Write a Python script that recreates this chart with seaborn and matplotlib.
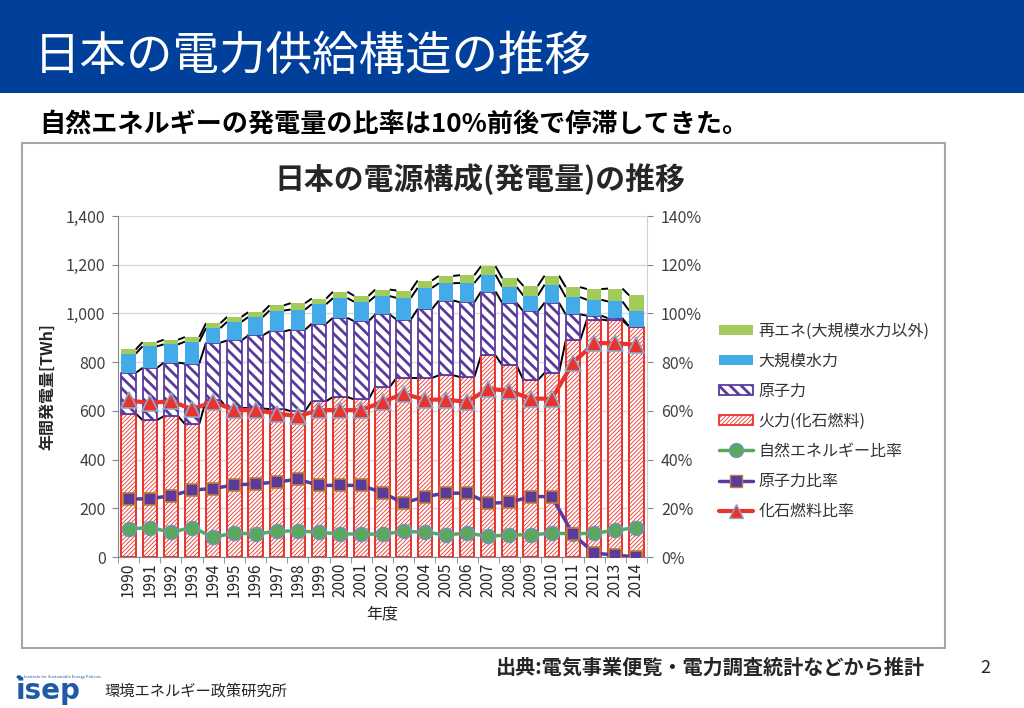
import numpy as np
import pandas as pd
import matplotlib
matplotlib.use("Agg")
import matplotlib.pyplot as plt
import seaborn as sns
from matplotlib.patches import Rectangle, Patch
from matplotlib.lines import Line2D
from matplotlib.collections import LineCollection
from matplotlib.ticker import FuncFormatter, MultipleLocator

# ---------------- data ----------------
years = [str(y) for y in range(1990, 2015)]
fossil = [589, 562, 578, 546, 644, 610, 610, 607, 599, 640, 657, 647, 698,
          735, 735, 746, 739, 828, 787, 726, 756, 889, 975, 971, 946]
nuclear = [167, 214, 220, 248, 236, 279, 300, 319, 334, 318, 325, 321, 298,
           240, 283, 307, 307, 262, 256, 282, 288, 107, 16, 9, 0]
hydro = [79, 89, 75, 90, 60, 77, 75, 86, 83, 80, 81, 80, 75,
         89, 87, 71, 79, 69, 66, 65, 74, 71, 65, 69, 65]
renew = [17, 17, 19, 19, 20, 20, 20, 21, 26, 23, 26, 24, 27,
         30, 30, 30, 32, 35, 35, 40, 37, 41, 44, 53, 63]
ratio_natural = [11.5, 12.1, 10.2, 12.1, 8.2, 9.8, 9.5, 10.5, 10.8, 10.1, 9.5, 9.4, 9.4,
                 10.5, 10.2, 9.1, 9.8, 8.5, 9.1, 9.1, 9.8, 9.5, 9.8, 10.9, 12.1]
ratio_nuclear = [23.7, 24.0, 25.1, 27.5, 28.1, 29.6, 30.0, 30.8, 31.9, 29.4, 29.4, 29.4, 26.4,
                 22.1, 24.8, 26.2, 26.2, 22.1, 22.4, 24.8, 24.8, 9.4, 1.6, 0.8, 0.0]
ratio_fossil = [64.3, 63.2, 64.0, 60.7, 63.7, 60.3, 60.3, 58.9, 57.8, 60.3, 60.3, 60.3, 63.7,
                67.0, 64.6, 64.6, 63.7, 69.1, 68.2, 65.0, 65.0, 79.6, 87.8, 87.8, 87.1]

labels_bar = ["再エネ(大規模水力以外)", "大規模水力", "原子力", "火力(化石燃料)"]
labels_line = ["自然エネルギー比率", "原子力比率", "化石燃料比率"]

# ---------------- style ----------------
sns.set_style("white")
plt.rcParams['font.family'] = ['Noto Sans CJK JP', 'DejaVu Sans']
plt.rcParams['hatch.linewidth'] = 0.6

C_FOSSIL = '#E8342C'
C_NUC = '#5B3A9E'
C_HYDRO = '#43ABE8'
C_RENEW = '#A2CB5C'
C_GREEN = '#5BA85A'
C_GRAY = '#868686'
H_FOSSIL = '////////'
H_NUC = '\\\\\\'

fig = plt.figure(figsize=(10.24, 7.08), dpi=100)

# header band
fig.patches.append(Rectangle((0, 1 - 93 / 708), 1, 93 / 708, transform=fig.transFigure,
                             facecolor='#00409A', edgecolor='none', zorder=-2))
fig.text(0.033, 1 - 57 / 708, "日本の電力供給構造の推移", color='white', fontsize=33.5,
         va='center', ha='left')
fig.text(0.038, 1 - 125 / 708, "自然エネルギーの発電量の比率は10%前後で停滞してきた。",
         color='black', fontsize=18.8, fontweight='bold', va='center', ha='left')

# chart frame
fig.patches.append(Rectangle((22 / 1024, 1 - 648 / 708), 923 / 1024, 505 / 708,
                             transform=fig.transFigure, facecolor='white',
                             edgecolor='#A6A6A6', linewidth=1.5, zorder=-2))
fig.text(480 / 1024, 1 - 179 / 708, "日本の電源構成(発電量)の推移", fontsize=21.5,
         fontweight='bold', ha='center', va='center')

ax = fig.add_axes([118 / 1024, 1 - 557 / 708, 529 / 1024, 341 / 708])
ax.set_facecolor('none')

df = pd.DataFrame({'year': years, 'fossil': fossil, 'nuclear': nuclear,
                   'hydro': hydro, 'renew': renew})
b1 = df['fossil']
b2 = b1 + df['nuclear']
b3 = b2 + df['hydro']
b4 = b3 + df['renew']
W = 0.68

sns.barplot(data=df, x='year', y='fossil', ax=ax, color='white', saturation=1,
            width=W, edgecolor=C_FOSSIL, linewidth=1.4, hatch=H_FOSSIL, zorder=2)
sns.barplot(data=df, x='year', y='nuclear', bottom=b1, ax=ax, color='white', saturation=1,
            width=W, edgecolor=C_NUC, linewidth=1.3, hatch=H_NUC, zorder=2)
sns.barplot(data=df, x='year', y='hydro', bottom=b2, ax=ax, color=C_HYDRO, saturation=1,
            width=W, linewidth=0, zorder=2)
sns.barplot(data=df, x='year', y='renew', bottom=b3, ax=ax, color=C_RENEW, saturation=1,
            width=W, linewidth=0, zorder=2)

for p in ax.patches:
    if p.get_hatch() == H_NUC and hasattr(p, 'set_hatch_linewidth'):
        p.set_hatch_linewidth(2.0)

# series lines between stacked tops
pos = np.arange(len(years))
segs = []
for lev in (b1, b2, b3, b4):
    lev = np.asarray(lev)
    for i in range(len(pos) - 1):
        segs.append([(pos[i] + W / 2, lev[i]), (pos[i + 1] - W / 2, lev[i + 1])])
ax.add_collection(LineCollection(segs, colors='black', linewidths=1.4, zorder=1.5))

ax.set_xlim(-0.5, len(years) - 0.5)
ax.set_ylim(0, 1400)
ax.yaxis.set_major_locator(MultipleLocator(200))
ax.yaxis.set_major_formatter(FuncFormatter(lambda v, p: f"{int(v):,}"))
ax.grid(axis='y', color='#D9D9D9', linewidth=1.0, zorder=0)
ax.set_axisbelow(True)
for s in ('top', 'right'):
    ax.spines[s].set_visible(False)
ax.spines['left'].set_color(C_GRAY)
ax.spines['bottom'].set_color(C_GRAY)
ax.tick_params(axis='y', labelsize=11.5, colors='#404040', length=4, color=C_GRAY,
               direction='out', left=True, pad=5)
ax.tick_params(axis='x', labelsize=11.2, labelcolor='#262626', rotation=90, length=0, pad=4)
ax.set_xticks(np.arange(-0.5, len(years)), minor=True)
ax.tick_params(axis='x', which='minor', length=4, color=C_GRAY, bottom=True)
ax.set_xlabel("年度", fontsize=11.5, color='#262626', labelpad=6)
ax.set_ylabel("年間発電量[TWh]", fontsize=11.5, fontweight='bold', color='#262626',
              labelpad=8)

# ratio lines on secondary axis
ax2 = ax.twinx()
sns.lineplot(x=pos, y=ratio_natural, ax=ax2, color=C_GREEN, linewidth=2.5, marker='o',
             markersize=10, markerfacecolor=C_GREEN, markeredgecolor='#6C95B8',
             markeredgewidth=1.2, zorder=5)
sns.lineplot(x=pos, y=ratio_nuclear, ax=ax2, color=C_NUC, linewidth=2.5, marker='s',
             markersize=9, markerfacecolor=C_NUC, markeredgecolor='#C07A3A',
             markeredgewidth=1.2, zorder=5)
sns.lineplot(x=pos, y=ratio_fossil, ax=ax2, color=C_FOSSIL, linewidth=3, marker='^',
             markersize=12, markerfacecolor=C_FOSSIL, markeredgecolor='#8FA6C8',
             markeredgewidth=1.2, zorder=5)
ax2.set_ylim(0, 140)
ax2.set_xlim(-0.5, len(years) - 0.5)
ax2.yaxis.set_major_locator(MultipleLocator(20))
ax2.yaxis.set_major_formatter(FuncFormatter(lambda v, p: f"{int(v)}%"))
for s in ('top', 'left', 'bottom'):
    ax2.spines[s].set_visible(False)
ax2.spines['right'].set_color('#D0D0D0')
ax2.tick_params(axis='y', labelsize=11.5, colors='#404040', length=4, color=C_GRAY,
                direction='out', pad=6)
ax2.set_ylabel("")
ax2.set_xlabel("")

# legend
handles = [
    Patch(facecolor=C_RENEW, edgecolor='none'),
    Patch(facecolor=C_HYDRO, edgecolor='none'),
    Patch(facecolor='white', edgecolor=C_NUC, hatch=H_NUC, linewidth=1.3),
    Patch(facecolor='white', edgecolor=C_FOSSIL, hatch=H_FOSSIL, linewidth=1.3),
    Line2D([], [], color=C_GREEN, linewidth=2.5, marker='o', markersize=10,
           markerfacecolor=C_GREEN, markeredgecolor='#6C95B8'),
    Line2D([], [], color=C_NUC, linewidth=2.5, marker='s', markersize=9,
           markerfacecolor=C_NUC, markeredgecolor='#C07A3A'),
    Line2D([], [], color=C_FOSSIL, linewidth=3, marker='^', markersize=10,
           markerfacecolor=C_FOSSIL, markeredgecolor='#8FA6C8'),
]
leg = fig.legend(handles, labels_bar + labels_line, loc='upper left',
                 bbox_to_anchor=(705 / 1024, 1 - 308 / 708), frameon=False,
                 fontsize=11.5, labelcolor='#333333', handlelength=2.1,
                 handleheight=0.6, labelspacing=0.82, handletextpad=0.35)
for h in leg.legend_handles:
    if isinstance(h, Patch) and h.get_hatch() == H_NUC and hasattr(h, 'set_hatch_linewidth'):
        h.set_hatch_linewidth(2.0)

# footer
fig.text(925 / 1024, 1 - 667 / 708, "出典:電気事業便覧・電力調査統計などから推計",
         fontsize=14.5, fontweight='bold', ha='right', va='center')
fig.text(985 / 1024, 1 - 668 / 708, "2", fontsize=13, ha='center', va='center',
         color='#262626')
fig.text(104 / 1024, 1 - 691 / 708, "環境エネルギー政策研究所", fontsize=11,
         ha='left', va='center')
fig.text(16 / 1024, 1 - 691 / 708, "isep", fontsize=20, fontweight='bold',
         color='#1E5AA8', ha='left', va='center', family='DejaVu Sans')
fig.text(24 / 1024, 1 - 677 / 708, "Institute for Sustainable Energy Policies",
         fontsize=3, color='#1E5AA8', ha='left', va='center')
fig.patches.append(plt.Circle((19 / 1024, 1 - 677 / 708), 0.0025, transform=fig.transFigure,
                              facecolor='#1E5AA8', edgecolor='none', zorder=-1))

fig.savefig("out.png", dpi=100)
